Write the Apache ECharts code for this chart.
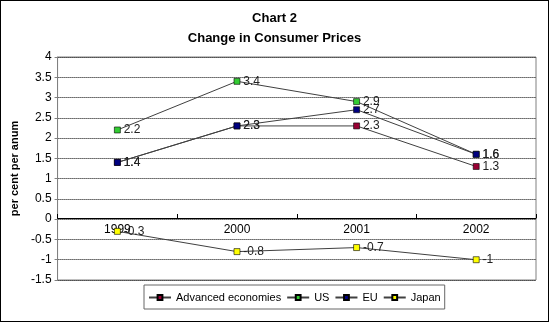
<!DOCTYPE html>
<html><head><meta charset="utf-8">
<script src="https://cdn.jsdelivr.net/npm/echarts@6/dist/echarts.min.js"></script>
<style>html,body{margin:0;padding:0;background:#fff}#c{width:549px;height:322px;box-sizing:border-box;border:1px solid #000}</style>
</head><body><div id="c"></div>
<script>
const categories = ['1999','2000','2001','2002'];
const advanced = [1.4, 2.3, 2.3, 1.3];
const us = [2.2, 3.4, 2.9, 1.6];
const eu = [1.4, 2.3, 2.7, 1.6];
const japan = [-0.3, -0.8, -0.7, -1];
const seriesNames = ['Advanced economies','US','EU','Japan'];
const markerColors = ['#990033','#33cc33','#000080','#ffff00'];

const chart = echarts.init(document.getElementById('c'), null, {renderer:'canvas'});
const font = 'Liberation Sans, Arial, sans-serif';
function mk(name, data, color){
  return {
    name, type:'line', data, symbol:'rect', symbolSize:6,
    lineStyle:{color:'#404040', width:1},
    itemStyle:{color:color, borderColor:'#000', borderWidth:0.6},
    label:{show:true, position:'right', distance:3, fontSize:12, color:'#222', fontFamily:font},
    emphasis:{disabled:true}, animation:false
  };
}
chart.setOption({
  animation:false,
  textStyle:{fontFamily:font},
  title:{text:'Chart 2\nChange in Consumer Prices', left:'center', top:2,
    textStyle:{fontSize:13, fontWeight:'bold', color:'#000', lineHeight:20, fontFamily:font}},
  grid:{left:49, right:12, top:56, bottom:41, show:true, borderColor:'#808080', borderWidth:1, backgroundColor:'#fff'},
  legend:{top:284, left:143, itemWidth:22, itemHeight:6, itemGap:5,
    borderColor:'#666', borderWidth:1, padding:[7,4,6,4],
    textStyle:{fontSize:11, color:'#000', fontFamily:font},
    data:seriesNames},
  xAxis:{type:'category', data:categories, boundaryGap:true, offset:-62,
    axisLine:{onZero:false, lineStyle:{color:'#000'}},
    axisTick:{show:true, inside:true, length:4, lineStyle:{color:'#000'}},
    axisLabel:{fontSize:12, color:'#000', margin:6, fontFamily:font}},
  yAxis:{type:'value', min:-1.5, max:4, interval:0.5,
    name:'per cent per anum', nameLocation:'middle', nameGap:35, nameRotate:90,
    nameTextStyle:{fontSize:11, fontWeight:'bold', color:'#000', fontFamily:font},
    axisLine:{show:true, lineStyle:{color:'#808080'}},
    axisTick:{show:true, length:3, lineStyle:{color:'#808080'}},
    axisLabel:{fontSize:12, color:'#000', margin:6, fontFamily:font},
    splitLine:{show:true, lineStyle:{color:'#000', type:[1,1], width:1}}},
  series:[mk(seriesNames[0], advanced, markerColors[0]), mk(seriesNames[1], us, markerColors[1]),
          mk(seriesNames[2], eu, markerColors[2]), mk(seriesNames[3], japan, markerColors[3])]
});
</script></body></html>
